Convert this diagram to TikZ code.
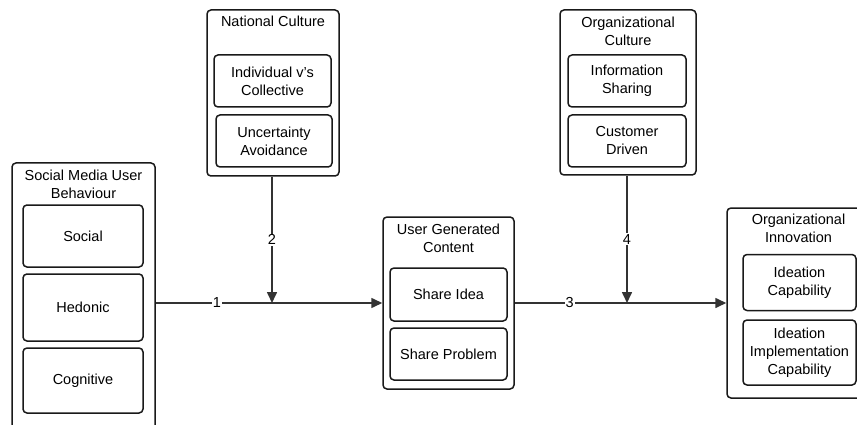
\documentclass[tikz,border=0pt]{standalone}
\usepackage{fontspec}
\setmainfont{Liberation Sans}
\usetikzlibrary{arrows.meta}
\begin{document}
\begin{tikzpicture}[x=1pt,y=-1pt,
  font=\fontsize{14.5}{18}\selectfont,
  outerbox/.style={draw=black!90, line width=1.5pt, rounded corners=4pt, fill=white},
  innerbox/.style={draw=black!90, line width=1.5pt, rounded corners=4pt, align=center, inner sep=0pt},
  title/.style={align=center, inner sep=0pt},
  conn/.style={draw=black!80, line width=1.6pt, -{Triangle[length=11pt,width=10pt]}},
  lbl/.style={fill=white, inner sep=1pt}
]
\useasboundingbox (0,0) rectangle (857,425);
\clip (0,0) rectangle (857,425);
% helper
\newcommand{\ibox}[6]{\node[#1, minimum width={#4-#2}, minimum height={#5-#3}] (#6) at ({(#2+#4)/2},{(#3+#5)/2}) {};}
% outer containers
\ibox{outerbox}{12}{163}{155}{445}{smub}
\ibox{outerbox}{207}{10}{339}{176}{nc}
\ibox{outerbox}{383}{217}{514}{389}{ugc}
\ibox{outerbox}{560}{10}{696}{175}{oc}
\ibox{outerbox}{727}{208}{870}{398}{oi}
% titles
\node[title] (smubt) at (83.5,184) {Social Media User\\Behaviour};
\node[title] (nct) at (273,21) {National Culture};
\node[title] (ugct) at (448.5,238) {User Generated\\Content};
\node[title] (oct) at (628,31) {Organizational\\Culture};
\node[title] (oit) at (798.5,228) {Organizational\\Innovation};
% inner boxes
\node[innerbox, minimum width=120pt, minimum height=62pt] (social) at (83,236) {Social};
\node[innerbox, minimum width=120pt, minimum height=67pt] (hedonic) at (83,307.5) {Hedonic};
\node[innerbox, minimum width=120pt, minimum height=65pt] (cognitive) at (83,380.5) {Cognitive};
\node[innerbox, minimum width=117pt, minimum height=52pt] (indiv) at (272.5,81) {Individual v's\\Collective};
\node[innerbox, minimum width=116pt, minimum height=52pt] (uncert) at (274,141) {Uncertainty\\Avoidance};
\node[innerbox, minimum width=117pt, minimum height=53pt] (idea) at (448.5,294.5) {Share Idea};
\node[innerbox, minimum width=117pt, minimum height=52pt] (problem) at (448.5,354) {Share Problem};
\node[innerbox, minimum width=118pt, minimum height=52pt] (info) at (627,81) {Information\\Sharing};
\node[innerbox, minimum width=118pt, minimum height=52pt] (cust) at (627,141) {Customer\\Driven};
\node[innerbox, minimum width=113pt, minimum height=56pt] (ideacap) at (799.5,282.5) {Ideation\\Capability};
\node[innerbox, minimum width=113pt, minimum height=65pt] (ideaimpl) at (799.5,352.5) {Ideation\\Implementation\\Capability};
% junctions
\coordinate (j1) at (272,303);
\coordinate (j2) at (627,303);
% connectors
\draw[conn] (smub.east |- j1) -- node[lbl, pos=0.27] (l1) {1} (ugc.west |- j1);
\draw[conn] (nc.south -| j1) -- node[lbl, pos=0.5] (l2) {2} (j1);
\draw[conn] (ugc.east |- j2) -- node[lbl, pos=0.26] (l3) {3} (oi.west |- j2);
\draw[conn] (oc.south -| j2) -- node[lbl, pos=0.5] (l4) {4} (j2);
\end{tikzpicture}
\end{document}
